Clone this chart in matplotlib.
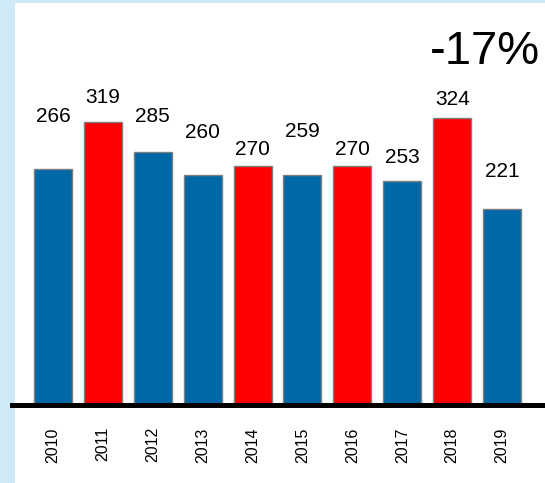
import numpy as np
import matplotlib
matplotlib.use("Agg")
import matplotlib.pyplot as plt

years = ["2010", "2011", "2012", "2013", "2014", "2015", "2016", "2017", "2018", "2019"]
values = [266, 319, 285, 260, 270, 259, 270, 253, 324, 221]
highlight = [False, True, False, False, True, False, True, False, True, False]
change_label = "-17%"

# label offset above each bar (points), as laid out in the original slide
label_offsets = [38, 18, 26, 30, 12, 32, 12, 17, 13, 27]

blue = "#0068a6"
red = "#ff0000"

plt.rcParams['font.family'] = ['Liberation Sans', 'DejaVu Sans']

W, H = 545, 483
fig = plt.figure(figsize=(W / 100, H / 100), dpi=100)
fig.patch.set_facecolor("#cfeaf6")

# white slide panel
panel = fig.add_axes([15 / W, 0, 1 - 15 / W, 1 - 3 / H])
panel.set_facecolor("white")
panel.set_xticks([])
panel.set_yticks([])
for s in panel.spines.values():
    s.set_visible(False)

ax = fig.add_axes([12 / W, 1 - 405 / H, 1 - 12 / W, 405 / H])
ax.patch.set_alpha(0)
x = np.arange(len(years))
colors = [red if h else blue for h in highlight]
bars = ax.bar(x, values, width=0.76, color=colors, edgecolor="#7f7f7f", linewidth=1)

for xi, v, off in zip(x, values, label_offsets):
    ax.annotate(str(v), (xi, v), xytext=(0, off), textcoords="offset points",
                ha="center", va="center", fontsize=15)

ax.set_xlim(-0.82, 9.86)
ax.set_ylim(0, 457)
ax.set_xticks(x)
ax.set_xticklabels(years, rotation=90, fontsize=11.5, va="top")
ax.tick_params(axis="x", length=0, pad=16)
ax.set_yticks([])
for s in ["left", "right", "top"]:
    ax.spines[s].set_visible(False)
ax.spines["bottom"].set_linewidth(3.6)
ax.spines["bottom"].set_color("black")

fig.text(485 / W, 1 - 52 / H, change_label, ha="center", va="center", fontsize=34)

fig.savefig("out.png", dpi=100)
